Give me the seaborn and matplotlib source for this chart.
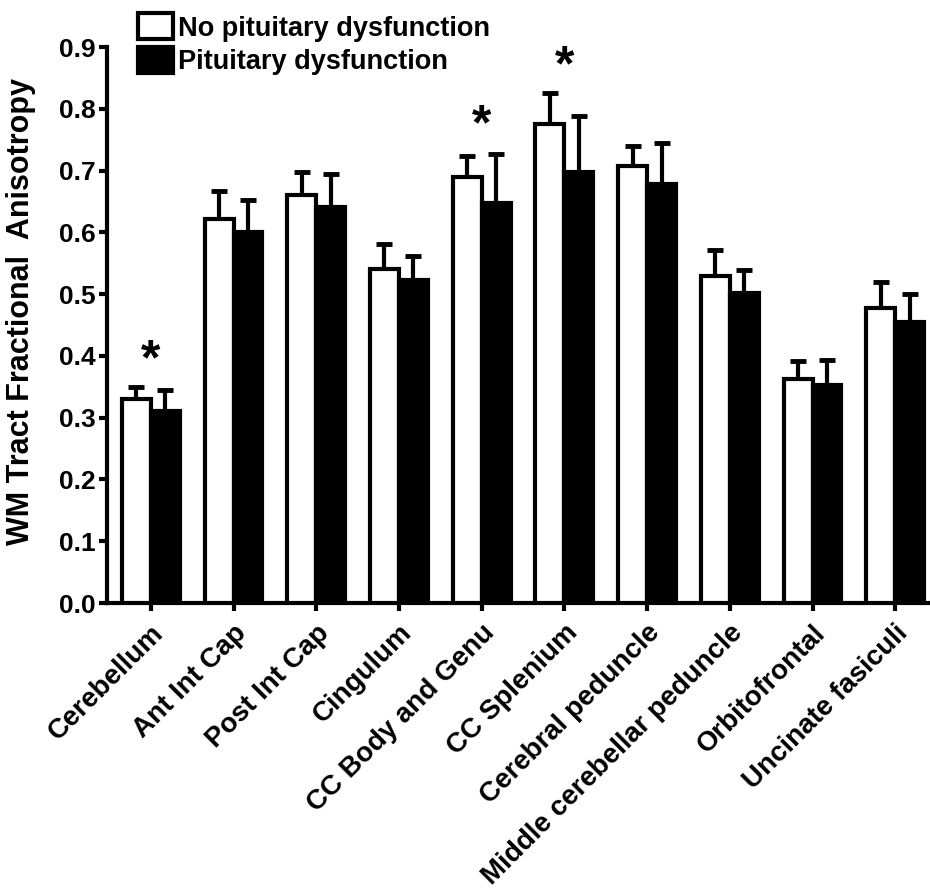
import numpy as np
import pandas as pd
import matplotlib
matplotlib.use("Agg")
import matplotlib.pyplot as plt
import seaborn as sns

categories = ["Cerebellum", "Ant Int Cap", "Post Int Cap", "Cingulum", "CC Body and Genu",
              "CC Splenium", "Cerebral peduncle", "Middle cerebellar peduncle",
              "Orbitofrontal", "Uncinate fasiculi"]
groups = ["No pituitary dysfunction", "Pituitary dysfunction"]
no_dys_mean = [0.330, 0.621, 0.661, 0.540, 0.690, 0.775, 0.708, 0.529, 0.362, 0.478]
no_dys_sd = [0.019, 0.046, 0.036, 0.042, 0.034, 0.051, 0.032, 0.042, 0.030, 0.041]
dys_mean = [0.311, 0.600, 0.641, 0.523, 0.647, 0.697, 0.678, 0.502, 0.353, 0.455]
dys_sd = [0.034, 0.052, 0.053, 0.039, 0.080, 0.092, 0.067, 0.037, 0.040, 0.045]
significant = ["Cerebellum", "CC Body and Genu", "CC Splenium"]
star_y = [0.392, 0.771, 0.868]
yticks = [0.0, 0.1, 0.2, 0.3, 0.4, 0.5, 0.6, 0.7, 0.8, 0.9]

df = pd.DataFrame({
    "Tract": categories * 2,
    "Group": [groups[0]] * len(categories) + [groups[1]] * len(categories),
    "FA": no_dys_mean + dys_mean,
    "SD": no_dys_sd + dys_sd,
})

sns.set_style("ticks")
plt.rcParams["font.family"] = ["Liberation Sans", "DejaVu Sans"]
plt.rcParams["font.weight"] = "bold"
plt.rcParams["text.color"] = "black"
plt.rcParams["axes.labelcolor"] = "black"
plt.rcParams["xtick.color"] = "black"
plt.rcParams["ytick.color"] = "black"

fig = plt.figure(figsize=(9.3, 8.93), dpi=100)
ax = fig.add_axes([0.115, 0.3247, 0.885, 0.6226])

sns.barplot(data=df, x="Tract", y="FA", hue="Group", order=categories, hue_order=groups,
            palette=["white", "black"], edgecolor="black", linewidth=3,
            width=0.7, gap=0, errorbar=None, ax=ax, zorder=3)

# upper-only error bars at bar centres
for i, g in enumerate(groups):
    sub = df[df["Group"] == g].set_index("Tract").loc[categories]
    offs = (-0.175 if i == 0 else 0.175)
    xs = np.arange(len(categories)) + offs
    ax.errorbar(xs, sub["FA"].values, yerr=[np.zeros(len(categories)), sub["SD"].values],
                fmt="none", ecolor="black", elinewidth=3, capsize=6, capthick=3.5, zorder=2)

for cat, sy in zip(significant, star_y):
    ax.text(categories.index(cat), sy, "*", ha="center", va="center",
            fontsize=36, fontweight="bold", color="black")

ax.set_ylim(0, 0.9)
ax.set_xlim(-0.53, 9.42)
ax.set_yticks(yticks)
ax.set_yticklabels([f"{t:.1f}" for t in yticks], fontsize=19, fontweight="bold")
ax.set_xticks(range(len(categories)))
ax.set_xticklabels(categories, rotation=45, ha="right", rotation_mode="anchor",
                   fontsize=20, fontweight="bold")
ax.tick_params(axis="both", direction="out", length=6, width=3, color="black", pad=2)
ax.tick_params(axis="x", pad=6)
ax.set_xlabel("")
ax.set_ylabel("WM Tract Fractional  Anisotropy", fontsize=22, fontweight="bold")
ax.yaxis.set_label_coords(-0.086, 0.525)
for s in ["top", "right"]:
    ax.spines[s].set_visible(False)
for s in ["left", "bottom"]:
    ax.spines[s].set_linewidth(3)
    ax.spines[s].set_color("black")

leg = ax.legend(loc="upper left", bbox_to_anchor=(0.148, 0.985), bbox_transform=fig.transFigure,
                frameon=False, fontsize=19.5, handlelength=1.3, handleheight=1.1,
                handletextpad=0.2, labelspacing=0.2, borderaxespad=0.0, borderpad=0.0)
for t in leg.get_texts():
    t.set_fontweight("bold")
    t.set_color("black")

fig.savefig("out.png", dpi=100)
